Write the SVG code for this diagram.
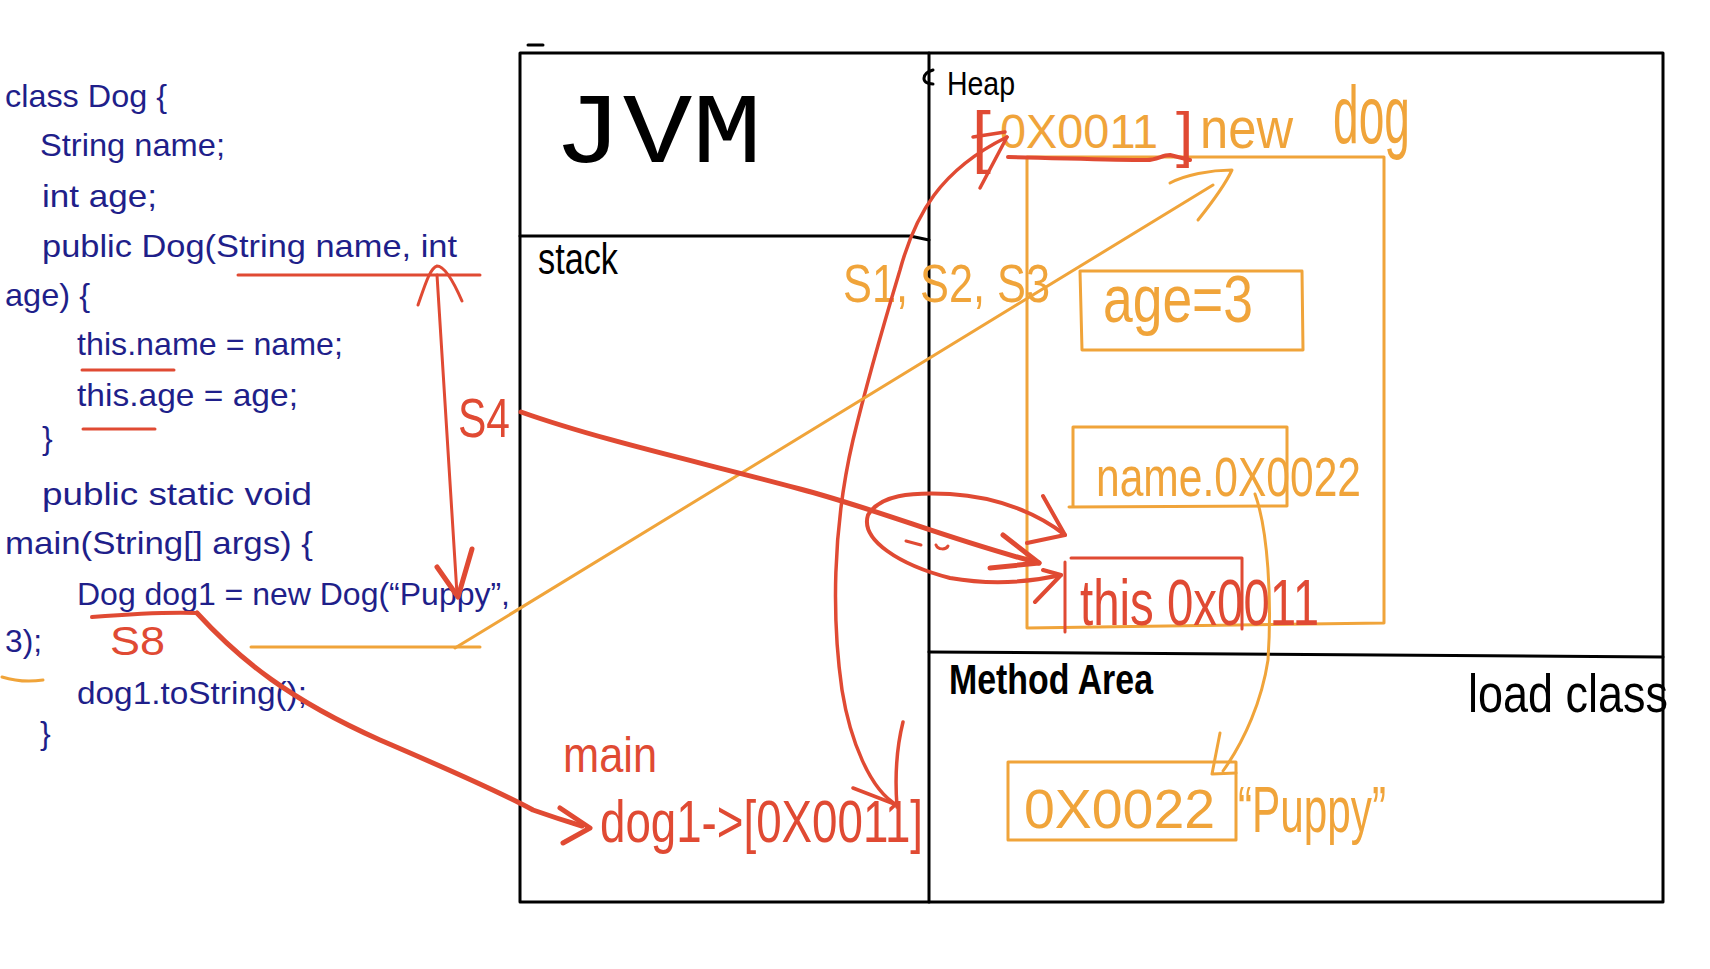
<svg xmlns="http://www.w3.org/2000/svg" width="1710" height="969" viewBox="0 0 1710 969">
<style>
.bg{fill:#ffffff}
.code{font-family:"Liberation Sans",Arial,sans-serif;font-size:32px;fill:#1f1f8a}
.blk{font-family:"Liberation Sans",Arial,sans-serif;fill:#000}
.red{font-family:"Liberation Sans",Arial,sans-serif;fill:#e04a33}
.org{font-family:"Liberation Sans",Arial,sans-serif;fill:#f0a43a}
.frame{fill:none;stroke:#000;stroke-width:3;stroke-linecap:round;stroke-linejoin:round}
.obox{fill:none;stroke:#f0a43a;stroke-width:3;stroke-linecap:round;stroke-linejoin:round}
.rbox{fill:none;stroke:#e04a33;stroke-width:3;stroke-linecap:round;stroke-linejoin:round}
.rthick{fill:none;stroke:#e04a33;stroke-width:5;stroke-linecap:round;stroke-linejoin:round}
.rmid{fill:none;stroke:#e04a33;stroke-width:4;stroke-linecap:round;stroke-linejoin:round}
.rthin{fill:none;stroke:#e04a33;stroke-width:3.5;stroke-linecap:round;stroke-linejoin:round}
.oline{fill:none;stroke:#f0a43a;stroke-width:3;stroke-linecap:round;stroke-linejoin:round}
</style>
<rect class="bg" x="0" y="0" width="1710" height="969"/>

<g id="code">
<text class="code" x="5" y="107" textLength="162" lengthAdjust="spacingAndGlyphs">class Dog {</text>
<text class="code" x="40" y="156" textLength="185" lengthAdjust="spacingAndGlyphs">String name;</text>
<text class="code" x="42" y="207" textLength="115" lengthAdjust="spacingAndGlyphs">int age;</text>
<text class="code" x="42" y="257" textLength="415" lengthAdjust="spacingAndGlyphs">public Dog(String name, int</text>
<text class="code" x="5" y="306" textLength="85" lengthAdjust="spacingAndGlyphs">age) {</text>
<text class="code" x="77" y="355" textLength="266" lengthAdjust="spacingAndGlyphs">this.name = name;</text>
<text class="code" x="77" y="406" textLength="221" lengthAdjust="spacingAndGlyphs">this.age = age;</text>
<text class="code" x="42" y="449">}</text>
<text class="code" x="42" y="505" textLength="270" lengthAdjust="spacingAndGlyphs">public static void</text>
<text class="code" x="5" y="554" textLength="308" lengthAdjust="spacingAndGlyphs">main(String[] args) {</text>
<text class="code" x="77" y="605" textLength="433" lengthAdjust="spacingAndGlyphs">Dog dog1 = new Dog(“Puppy”,</text>
<text class="code" x="5" y="652" textLength="37" lengthAdjust="spacingAndGlyphs">3);</text>
<text class="code" x="77" y="704" textLength="230" lengthAdjust="spacingAndGlyphs">dog1.toString();</text>
<text class="code" x="40" y="744">}</text>
</g>

<g id="jvm">
<path class="frame" d="M528,45 L543,45"/>
<path class="frame" d="M520,53 L1663,53 L1663,902 L520,902 Z"/>
<text class="blk" x="553" y="162" style="font-family:'Liberation Mono',monospace;font-size:100px" textLength="209" lengthAdjust="spacingAndGlyphs">JVM</text>
</g>

<g id="stack">
<path class="frame" d="M520,236 L910,236 L929,240"/>
<path class="frame" d="M929,53 L929,902"/>
<text class="blk" x="538" y="274" style="font-size:44px" textLength="80" lengthAdjust="spacingAndGlyphs">stack</text>
</g>

<g id="stack-frame-main">
<text class="red" x="563" y="772" style="font-size:50px" textLength="94" lengthAdjust="spacingAndGlyphs">main</text>
<text class="red" x="600" y="842" style="font-size:60px" textLength="323" lengthAdjust="spacingAndGlyphs">dog1-&gt;[0X0011]</text>
</g>

<g id="heap">
<path class="frame" d="M933,70 C922,73 920,84 933,84"/>
<text class="blk" x="947" y="95" style="font-size:34px" textLength="68" lengthAdjust="spacingAndGlyphs">Heap</text>
</g>

<g id="dog-object">
<path class="obox" d="M1027,157 L1384,157 L1384,623 L1027,628 Z"/>
<text class="red" x="972" y="160" style="font-size:68px">[<tspan class="org" x="1000" y="148" style="font-size:48px" textLength="158" lengthAdjust="spacingAndGlyphs">0X0011</tspan><tspan x="1176" y="155" style="font-size:62px">]</tspan><tspan class="org" x="1200" y="148" style="font-size:58px" textLength="93" lengthAdjust="spacingAndGlyphs">new</tspan><tspan class="org" x="1333" y="143" style="font-size:82px" textLength="77" lengthAdjust="spacingAndGlyphs">dog</tspan></text>
<path class="rmid" d="M1008,157 C1060,158 1110,160 1147,160 C1157,160 1162,155 1170,155 L1190,160"/>
</g>

<g id="field-age">
<path class="obox" d="M1080,271 L1302,271 L1303,350 L1082,350 Z"/>
<text class="org" x="1103" y="322" style="font-size:66px" textLength="150" lengthAdjust="spacingAndGlyphs">age=3</text>
</g>

<g id="field-name">
<path class="obox" d="M1073,427 L1287,427 L1287,506 L1069,507 M1073,427 L1073,506"/>
<text class="org" x="1096" y="496" style="font-size:56px" textLength="265" lengthAdjust="spacingAndGlyphs">name.0X0022</text>
</g>

<g id="field-this">
<path class="rbox" d="M1065,632 L1065,562 M1071,558 L1242,558 L1242,629"/>
<text class="red" x="1080" y="625" style="font-size:64px" textLength="239" lengthAdjust="spacingAndGlyphs">this 0x0011</text>
</g>

<g id="method-area">
<path class="frame" d="M929,652 L1663,657"/>
<text class="blk" x="949" y="694" style="font-size:42px;font-weight:bold" textLength="204" lengthAdjust="spacingAndGlyphs">Method Area</text>
<text class="blk" x="1468" y="712" style="font-size:54px" textLength="200" lengthAdjust="spacingAndGlyphs">load class</text>
</g>

<g id="string-puppy">
<rect class="obox" x="1008" y="762" width="228" height="78"/>
<text class="org" x="1024" y="828" style="font-size:56px" textLength="191" lengthAdjust="spacingAndGlyphs">0X0022</text>
<text class="org" x="1238" y="832" style="font-size:64px" textLength="148" lengthAdjust="spacingAndGlyphs">“Puppy”</text>
</g>

<g id="steps">
<text class="red" x="458" y="437" style="font-size:56px" textLength="52" lengthAdjust="spacingAndGlyphs">S4</text>
<text class="red" x="110" y="655" style="font-size:40px" textLength="55" lengthAdjust="spacingAndGlyphs">S8</text>
<text class="org" x="843" y="302" style="font-size:54px" textLength="207" lengthAdjust="spacingAndGlyphs">S1, S2, S3</text>
</g>

<g id="connectors">
<path class="rbox" d="M238,275 L480,275"/>
<path class="rbox" d="M82,370 L174,370"/>
<path class="rbox" d="M83,429 L155,429"/>
<path class="rmid" d="M92,617 C130,614 170,612 197,613"/>
<path class="oline" d="M251,647 L480,647"/>
<path class="oline" d="M2,677 C15,681 30,682 43,680"/>
<path class="rbox" d="M437,275 L457,594"/>
<path class="rbox" d="M418,305 C425,285 430,268 437,266 C445,266 455,285 462,301"/>
<path class="rthick" d="M437,567 L458,597 L472,549"/>
<path class="rthick" d="M197,613 C240,660 290,700 380,740 C450,770 500,792 533,810 C550,816 562,820 582,826"/>
<path class="rthick" d="M560,808 L590,828 L563,843"/>
<path class="rthin" d="M897,805 C870,790 850,740 842,690 C832,620 832,530 853,440 C865,390 885,320 900,270 C915,215 940,170 1007,137"/>
<path class="rthin" d="M853,788 L897,805 M903,722 C896,750 895,780 897,807"/>
<path class="rthin" d="M973,137 L1005,132 M980,188 L1007,137"/>
<path class="oline" d="M455,648 L1213,185"/>
<path class="oline" d="M1170,183 C1185,175 1210,170 1232,170 C1225,185 1210,205 1198,220"/>
<path class="rthick" d="M521,412 C600,440 700,462 800,489 C880,510 950,540 1039,563"/>
<path class="rthick" d="M1003,535 L1039,563 L990,568"/>
<path class="rmid" d="M1065,535 C1040,515 1000,497 950,494 C910,492 880,495 868,515 C860,540 900,565 950,578 C990,585 1030,582 1061,575"/>
<path class="rmid" d="M1043,496 L1065,535 L1027,543 M1043,570 L1061,575 L1035,602"/>
<path class="rbox" d="M906,541 L921,545 M936,545 C938,550 946,550 948,546"/>
<path class="oline" d="M1255,494 C1268,530 1272,600 1268,660 C1262,700 1245,740 1223,771"/>
<path class="oline" d="M1220,733 L1212,774 L1236,773"/>
</g>
</svg>
